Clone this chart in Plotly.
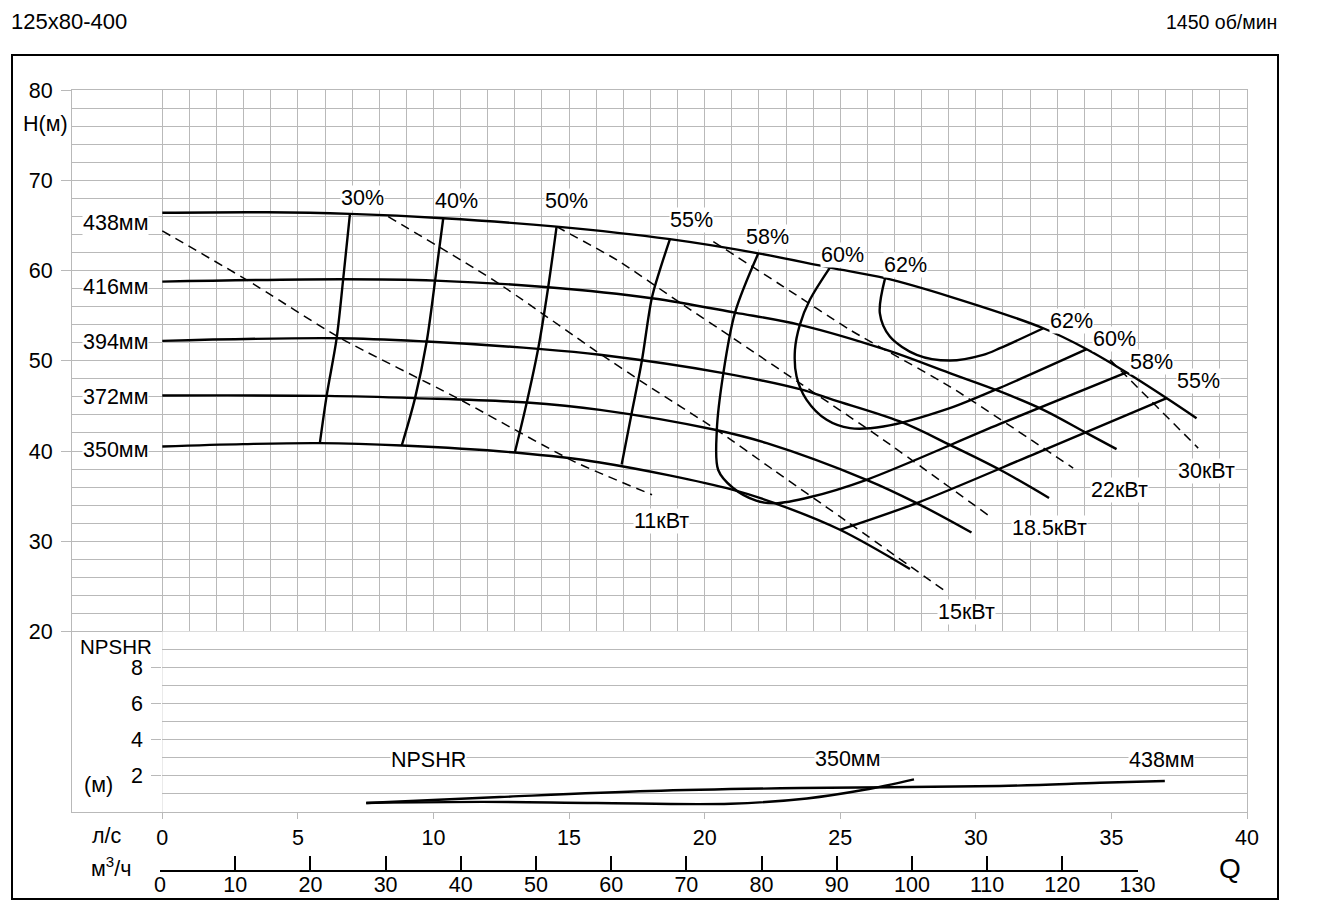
import plotly.graph_objects as go

# ---------------- data (Q in l/s, H in m, NPSHR in m) ----------------
Q_438 = [0, 3.85, 6.92, 10.36, 14.54, 18.72, 21.98, 24.62, 26.65, 29.04, 32.49, 34.09, 35.56, 37.04, 38.14]
H_438 = [66.4, 66.45, 66.27, 65.79, 64.86, 63.47, 61.9, 60.32, 59.15, 57.11, 53.6, 51.28, 48.7, 45.85, 43.64]
Q_416 = [0, 6.67, 10.06, 14.23, 18.05, 21.12, 23.51, 26.7, 29.04, 30.89, 32.49, 34.09, 35.19]
H_416 = [58.77, 59.03, 58.88, 58.15, 56.93, 55.34, 53.98, 51.2, 48.63, 46.6, 44.56, 41.98, 40.21]
Q_394 = [0, 6.43, 9.75, 13.86, 16.14, 20.69, 23.51, 24.74, 27.2, 29.1, 30.89, 32.7]
H_394 = [52.2, 52.5, 52.13, 51.32, 50.66, 48.63, 46.85, 45.67, 43.27, 40.6, 37.92, 34.8]
Q_372 = [0, 6.06, 9.32, 13.44, 16.14, 20.38, 22.29, 25.97, 27.82, 29.84]
H_372 = [46.15, 46.11, 45.86, 45.37, 44.56, 42.35, 40.87, 36.81, 34.23, 30.97]
Q_350 = [0, 2.99, 5.81, 8.83, 13.0, 16.14, 21.05, 22.65, 24.99, 27.57]
H_350 = [40.5, 40.76, 40.87, 40.61, 39.83, 38.73, 35.7, 34.15, 31.27, 26.92]

E30_Q = [6.92, 6.67, 6.43, 6.06, 5.81]
E30_H = [66.27, 59.03, 52.5, 46.11, 40.87]
E40_Q = [10.36, 10.06, 9.75, 9.32, 8.83]
E40_H = [65.79, 58.88, 52.13, 45.86, 40.61]
E50_Q = [14.54, 14.23, 13.86, 13.44, 13.0]
E50_H = [64.86, 58.15, 51.32, 45.37, 39.83]
E55L_Q = [18.72, 18.35, 18.05, 17.68, 17.31, 16.94]
E55L_H = [63.47, 60.07, 56.93, 49.91, 44.2, 38.5]
E55R_Q = [24.99, 27.82, 32.24, 37.04]
E55R_H = [31.27, 34.23, 39.77, 45.85]
E58_Q = [21.98, 21.12, 20.69, 20.45, 20.5, 21.05, 21.9, 22.6, 23.9, 25.97, 30.89, 35.56]
E58_H = [61.9, 55.34, 48.63, 42.35, 37.9, 35.9, 34.5, 34.2, 34.9, 36.81, 43.0, 48.7]
E60_Q = [24.62, 23.88, 23.51, 23.33, 23.39, 23.76, 24.5, 25.36, 26.59, 29.04, 30.89, 34.09]
E60_H = [60.32, 56.75, 53.98, 51.2, 48.26, 45.67, 43.45, 42.53, 42.71, 44.75, 47.0, 51.28]
E62_Q = [26.65, 26.46, 26.83, 27.82, 29.04, 30.27, 30.89, 32.49]
E62_H = [59.1, 55.27, 52.68, 50.65, 50.02, 50.65, 51.39, 53.6]

P11_Q = [0, 3.11, 6.55, 10.79, 15.21, 18.06]
P11_H = [64.39, 58.96, 52.54, 46.0, 38.8, 35.15]
P15_Q = [8.33, 12.2, 16.02, 17.86, 20.44, 22.53, 24.98, 28.8]
P15_H = [65.97, 58.96, 51.02, 47.33, 42.35, 37.92, 32.75, 24.63]
P18_Q = [14.54, 16.76, 19.21, 21.05, 23.51, 26.59, 30.52]
P18_H = [64.86, 61.17, 56.19, 52.5, 47.52, 41.24, 32.75]
P22_Q = [20.32, 22.9, 25.36, 29.04, 33.59]
P22_H = [63.2, 58.22, 53.42, 47.14, 38.11]
P30_Q = [34.95, 38.2]
P30_H = [50.1, 40.32]

N438_Q = [7.52, 12.45, 17.98, 23.52, 30.89, 34.58, 36.97]
N438_N = [0.5, 0.83, 1.16, 1.33, 1.44, 1.62, 1.72]
N350_Q = [7.52, 11.8, 16.0, 20.96, 23.77, 25.89, 27.72]
N350_N = [0.5, 0.56, 0.5, 0.46, 0.75, 1.23, 1.81]

DIA_LABELS = ["438мм", "416мм", "394мм", "372мм", "350мм"]
DIA_LABEL_Q = [-1.74, -1.74, -1.74, -1.74, -1.74]
DIA_LABEL_H = [65.27, 58.2, 52.09, 46.0, 40.13]

EFF_LABELS = ["30%", "40%", "50%", "55%", "58%", "60%", "62%", "62%", "60%", "58%", "55%"]
EFF_LABEL_Q = [7.38, 10.86, 14.91, 19.52, 22.33, 25.1, 27.4, 33.51, 35.1, 36.46, 38.2]
EFF_LABEL_H = [68.04, 67.71, 67.71, 65.6, 63.75, 61.73, 60.62, 54.44, 52.43, 49.82, 47.8]

PWR_LABELS = ["11кВт", "15кВт", "18.5кВт", "22кВт", "30кВт"]
PWR_LABEL_Q = [18.41, 29.67, 32.73, 35.31, 38.52]
PWR_LABEL_H = [32.19, 22.19, 31.5, 35.7, 37.73]

NPSH_LABELS = ["NPSHR", "350мм", "438мм"]
NPSH_LABEL_Q = [9.81, 25.25, 36.85]
NPSH_LABEL_N = [2.9, 2.95, 2.9]

LPS_TICKS = list(range(0, 41, 5))
LPS_GRID = list(range(0, 41))
H_TICKS = list(range(20, 81, 10))
H_GRID = list(range(20, 81, 2))
NPSH_TICKS = [2, 4, 6, 8]
NPSH_GRID = list(range(1, 10))
M3H_TICKS = list(range(0, 131, 10))

# ---------------- layout geometry ----------------
W, HGT = 1340, 920
ML, MR, MT, MB = 72, 93, 90, 40
PW, PH = W - ML - MR, HGT - MT - MB


def fx(px):
    return (px - ML) / PW


def fy(py):
    return (HGT - MB - py) / PH


F = "Liberation Sans, Arial, sans-serif"
GRID = "#b9b9b9"
FS = 21.5
fig = go.Figure()


def curve(q, h, width=2.4, dash=None, xa="x", ya="y", smooth=1.0):
    fig.add_trace(go.Scatter(
        x=q, y=h, mode="lines", xaxis=xa, yaxis=ya,
        line=dict(color="black", width=width, dash=dash, shape="spline", smoothing=smooth),
        hoverinfo="skip", showlegend=False))


for q, h in [(Q_438, H_438), (Q_416, H_416), (Q_394, H_394), (Q_372, H_372), (Q_350, H_350)]:
    curve(q, h)
for q, h in [(E30_Q, E30_H), (E40_Q, E40_H), (E50_Q, E50_H), (E55L_Q, E55L_H),
             (E55R_Q, E55R_H), (E58_Q, E58_H), (E60_Q, E60_H), (E62_Q, E62_H)]:
    curve(q, h, smooth=0.9)
for q, h in [(P11_Q, P11_H), (P15_Q, P15_H), (P18_Q, P18_H), (P22_Q, P22_H), (P30_Q, P30_H)]:
    curve(q, h, width=1.5, dash="9px,6px", smooth=0.6)
for q, n in [(N438_Q, N438_N), (N350_Q, N350_N)]:
    curve(q, n, width=2.4, xa="x2", ya="y2")

# invisible helper so the m3/h scale subplot renders
fig.add_trace(go.Scatter(x=M3H_TICKS, y=[0] * len(M3H_TICKS), xaxis="x3", yaxis="y3",
                         mode="markers", marker=dict(opacity=0), hoverinfo="skip", showlegend=False))

ann = []


def txt(x, y, t, xref="x", yref="y", size=FS, xanchor="center", bg="white"):
    d = dict(x=x, y=y, xref=xref, yref=yref, text=t, showarrow=False,
             font=dict(family=F, size=size, color="black"),
             xanchor=xanchor, yanchor="middle", borderpad=0)
    if bg:
        d["bgcolor"] = bg
    ann.append(d)


for t, q, h in zip(DIA_LABELS, DIA_LABEL_Q, DIA_LABEL_H):
    txt(q, h, t)
for t, q, h in zip(EFF_LABELS, EFF_LABEL_Q, EFF_LABEL_H):
    txt(q, h, t)
for t, q, h in zip(PWR_LABELS, PWR_LABEL_Q, PWR_LABEL_H):
    txt(q, h, t)
for t, q, n in zip(NPSH_LABELS, NPSH_LABEL_Q, NPSH_LABEL_N):
    txt(q, n, t, xref="x2", yref="y2")

txt(fx(10), fy(22), "125x80-400", "paper", "paper", size=22, xanchor="left", bg=None)
txt(fx(1278), fy(22), "1450 об/мин", "paper", "paper", size=19.5, xanchor="right", bg=None)
txt(fx(45), fy(124), "H(м)", "paper", "paper")
txt(fx(116), fy(646), "NPSHR", "paper", "paper", size=20.5, bg=None)
txt(fx(98), fy(785), "(м)", "paper", "paper")
txt(fx(107), fy(836), "л/с", "paper", "paper")
txt(fx(111), fy(867), "м<sup>3</sup>/ч", "paper", "paper")
txt(fx(1230), fy(868), "Q", "paper", "paper", size=28)

tickfont = dict(family=F, size=FS, color="black")

fig.update_layout(
    width=W, height=HGT,
    margin=dict(l=ML, r=MR, t=MT, b=MB),
    paper_bgcolor="white", plot_bgcolor="white",
    showlegend=False, hovermode=False,
    annotations=ann,
    shapes=[dict(type="rect", xref="paper", yref="paper",
                 x0=fx(12), x1=fx(1278), y0=fy(899), y1=fy(55),
                 line=dict(color="black", width=2), layer="above")],
    xaxis=dict(domain=[0, 1], range=[-3.33, 40], anchor="y",
               tickmode="array", tickvals=LPS_TICKS, ticktext=[str(v) for v in LPS_TICKS],
               ticks="outside", ticklen=6, tickcolor=GRID, tickwidth=1,
               showgrid=True, gridcolor=GRID, gridwidth=1,
               minor=dict(tickmode="array", tickvals=LPS_GRID, showgrid=True, gridcolor=GRID, gridwidth=1, ticks=""),
               showline=True, mirror=True, linecolor=GRID, linewidth=1,
               zeroline=False, tickfont=tickfont),
    yaxis=dict(domain=[fy(812), 1], range=[0, 80], anchor="x",
               tickmode="array", tickvals=H_TICKS, ticktext=[str(v) for v in H_TICKS],
               ticks="outside", ticklen=10, tickcolor=GRID, tickwidth=1,
               showgrid=True, gridcolor=GRID, gridwidth=1, ticklabelstandoff=4,
               minor=dict(tickmode="array", tickvals=H_GRID, showgrid=True, gridcolor=GRID, gridwidth=1, ticks=""),
               showline=True, mirror=True, linecolor=GRID, linewidth=1,
               zeroline=False, tickfont=tickfont),
    xaxis2=dict(domain=[fx(162.3), 1], range=[0, 40], anchor="y2",
                showgrid=False, showticklabels=False, ticks="", zeroline=False, showline=False),
    yaxis2=dict(domain=[fy(812), fy(631.5)], range=[0, 10], anchor="x2",
                tickmode="array", tickvals=NPSH_TICKS, ticktext=[str(v) for v in NPSH_TICKS],
                ticks="outside", ticklen=10, tickcolor=GRID, tickwidth=1,
                showgrid=True, gridcolor=GRID, gridwidth=1, ticklabelstandoff=4,
                minor=dict(tickmode="array", tickvals=NPSH_GRID, showgrid=True, gridcolor=GRID, gridwidth=1, ticks=""),
                showline=False, zeroline=False, tickfont=tickfont),
    xaxis3=dict(domain=[fx(160), fx(1137.5)], range=[0, 130], anchor="y3",
                tickmode="array", tickvals=M3H_TICKS, ticktext=[str(v) for v in M3H_TICKS],
                ticks="inside", ticklen=14, tickwidth=1.5, tickcolor="black",
                showline=True, linecolor="black", linewidth=1.5, ticklabelstandoff=-5,
                showgrid=False, zeroline=False, tickfont=tickfont),
    yaxis3=dict(domain=[fy(869.5), fy(869.5) + 0.005], range=[0, 1], anchor="x3",
                visible=False),
)

fig.write_html("out.html")
